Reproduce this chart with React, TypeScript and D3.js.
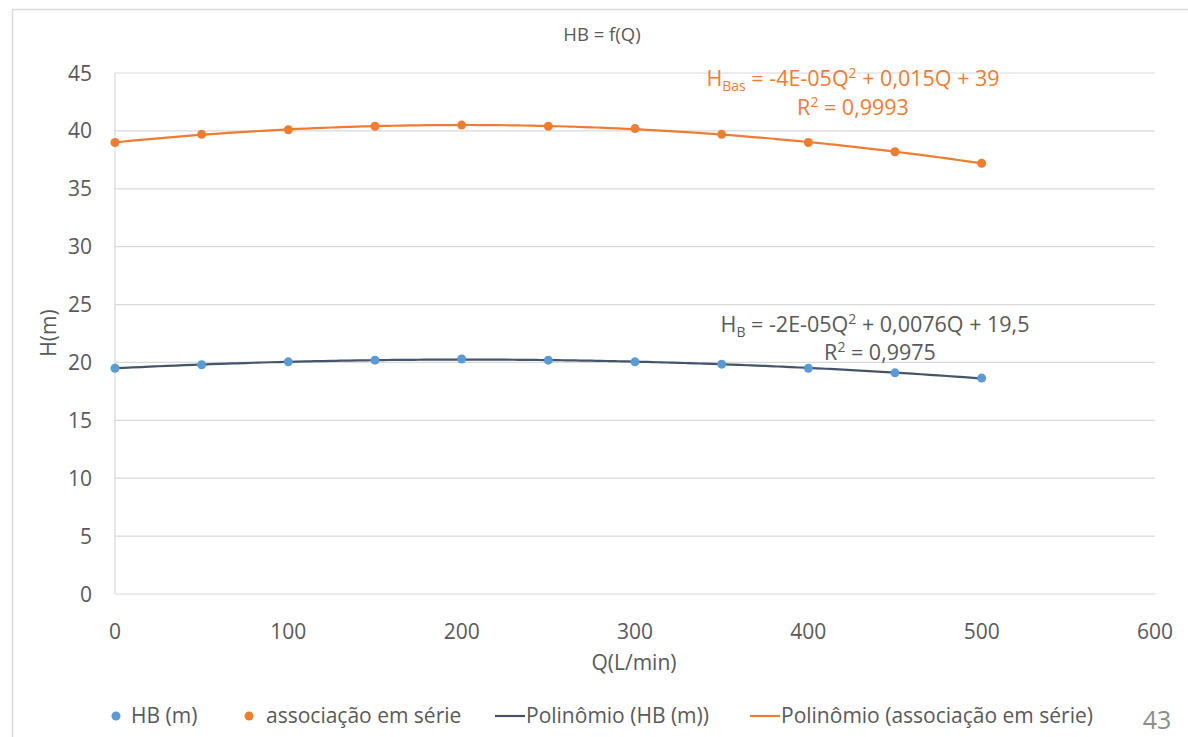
import React, { useMemo } from 'react';
import * as d3 from 'd3';

// vazão (L/min) e alturas
const Q_VALUES = [0, 50, 100, 150, 200, 250, 300, 350, 400, 450, 500];
const HB_VALUES = [19.5, 19.8, 20.05, 20.2, 20.3, 20.2, 20.05, 19.85, 19.5, 19.1, 18.65];
const SERIE_VALUES = [39.0, 39.7, 40.1, 40.4, 40.5, 40.4, 40.2, 39.7, 39.0, 38.2, 37.2];

const X_TICKS = [0, 100, 200, 300, 400, 500, 600];
const Y_TICKS = [0, 5, 10, 15, 20, 25, 30, 35, 40, 45];

const BLUE = '#5B9BD5';
const DARK = '#44546A';
const ORANGE = '#ED7D31';
const TEXT = '#595959';
const GRID = '#D9D9D9';
const FONT = '"Open Sans", Lato, sans-serif';

const W = 1188;
const H = 737;

// least squares fit of a 2nd degree polynomial, returns [a, b, c] for a*x^2 + b*x + c
function fitQuadratic(xs: number[], ys: number[]) {
  const s = [0, 0, 0, 0, 0];
  const t = [0, 0, 0];
  xs.forEach((x, i) => {
    for (let k = 0; k < 5; k++) s[k] += Math.pow(x, k);
    for (let k = 0; k < 3; k++) t[k] += ys[i] * Math.pow(x, k);
  });
  const m = [
    [s[0], s[1], s[2], t[0]],
    [s[1], s[2], s[3], t[1]],
    [s[2], s[3], s[4], t[2]],
  ];
  for (let i = 0; i < 3; i++) {
    let p = i;
    for (let r = i + 1; r < 3; r++) if (Math.abs(m[r][i]) > Math.abs(m[p][i])) p = r;
    [m[i], m[p]] = [m[p], m[i]];
    for (let r = 0; r < 3; r++) {
      if (r === i) continue;
      const f = m[r][i] / m[i][i];
      for (let c = i; c < 4; c++) m[r][c] -= f * m[i][c];
    }
  }
  return [m[2][3] / m[2][2], m[1][3] / m[1][1], m[0][3] / m[0][0]];
}

export default function App() {
  const margin = { left: 115, right: W - 1155, top: 73, bottom: H - 594 };

  const x = d3.scaleLinear().domain([0, 600]).range([margin.left, W - margin.right]);
  const y = d3.scaleLinear().domain([0, 45]).range([H - margin.bottom, margin.top]);

  const series = useMemo(() => [
    { values: HB_VALUES, dot: BLUE, line: DARK },
    { values: SERIE_VALUES, dot: ORANGE, line: ORANGE },
  ], []);

  const trend = (values: number[]) => {
    const [a, b, c] = fitQuadratic(Q_VALUES, values);
    const qs = d3.range(0, 500.01, 5);
    return d3.line<number>()
      .x(q => x(q))
      .y(q => y(a * q * q + b * q + c))
      .curve(d3.curveMonotoneX)(qs) || '';
  };

  const tickStyle = { fontFamily: FONT, fontSize: 21, fill: TEXT };
  const eqStyle = (fill: string) => ({ fontFamily: FONT, fontSize: 21.5, fill });

  return (
    <div style={{ position: 'absolute', left: 0, top: 0 }}>
      <svg width={W} height={H} style={{ display: 'block', background: '#fff' }}>
        {/* chart frame */}
        <line x1={12.5} x2={W} y1={9.5} y2={9.5} stroke={GRID} strokeWidth={1.5} />
        <line x1={12.5} x2={12.5} y1={9.5} y2={H} stroke={GRID} strokeWidth={1.5} />

        <text x={602} y={41} textAnchor="middle" style={{ fontFamily: FONT, fontSize: 18.5, fill: TEXT }}>
          HB = f(Q)
        </text>

        {/* grid */}
        {Y_TICKS.map(t => (
          <line key={'g' + t} x1={x(0)} x2={x(600)} y1={y(t)} y2={y(t)} stroke={GRID} strokeWidth={1.2} />
        ))}
        <line x1={x(0)} x2={x(0)} y1={y(0)} y2={y(45)} stroke={GRID} strokeWidth={1.2} />

        {Y_TICKS.map(t => (
          <text key={'y' + t} x={x(0) - 23} y={y(t) + 7.5} textAnchor="end" style={tickStyle}>{t}</text>
        ))}
        {X_TICKS.map(t => (
          <text key={'x' + t} x={x(t)} y={y(0) + 45} textAnchor="middle" style={tickStyle}>{t}</text>
        ))}

        <text x={634} y={670} textAnchor="middle" style={tickStyle}>Q(L/min)</text>
        <text transform={`translate(56, ${333}) rotate(-90)`} textAnchor="middle" style={tickStyle}>H(m)</text>

        {/* trendlines */}
        {series.map((s, i) => (
          <path key={'t' + i} d={trend(s.values)} fill="none" stroke={s.line} strokeWidth={2.2} />
        ))}
        {/* markers */}
        {series.map((s, i) => s.values.map((v, j) => (
          <circle key={`m${i}-${j}`} cx={x(Q_VALUES[j])} cy={y(v)} r={4.5} fill={s.dot} />
        )))}

        {/* equations */}
        <text x={853} y={86} textAnchor="middle" style={eqStyle(ORANGE)}>
          H<tspan fontSize={14} dy={5}>Bas</tspan><tspan dy={-5}> = -4E-05Q</tspan>
          <tspan fontSize={14} dy={-8}>2</tspan><tspan dy={8}> + 0,015Q + 39</tspan>
        </text>
        <text x={853} y={115} textAnchor="middle" style={eqStyle(ORANGE)}>
          R<tspan fontSize={14} dy={-8}>2</tspan><tspan dy={8}> = 0,9993</tspan>
        </text>
        <text x={875} y={332} textAnchor="middle" style={eqStyle(TEXT)}>
          H<tspan fontSize={14} dy={5}>B</tspan><tspan dy={-5}> = -2E-05Q</tspan>
          <tspan fontSize={14} dy={-8}>2</tspan><tspan dy={8}> + 0,0076Q + 19,5</tspan>
        </text>
        <text x={880} y={360} textAnchor="middle" style={eqStyle(TEXT)}>
          R<tspan fontSize={14} dy={-8}>2</tspan><tspan dy={8}> = 0,9975</tspan>
        </text>

        {/* legend */}
        <g style={{ fontFamily: FONT, fontSize: 21, fill: TEXT }}>
          <circle cx={116} cy={716} r={4.5} fill={BLUE} />
          <text x={131} y={723}>HB (m)</text>
          <circle cx={249} cy={716} r={4.5} fill={ORANGE} />
          <text x={266} y={723}>associação em série</text>
          <line x1={495} x2={525} y1={716} y2={716} stroke={DARK} strokeWidth={2.2} />
          <text x={526} y={723}>Polinômio (HB (m))</text>
          <line x1={750} x2={780} y1={716} y2={716} stroke={ORANGE} strokeWidth={2.2} />
          <text x={781} y={723}>Polinômio (associação em série)</text>
        </g>

        <text x={1157} y={729} textAnchor="middle" style={{ fontFamily: FONT, fontSize: 25, fill: '#8c8c8c' }}>43</text>
      </svg>
    </div>
  );
}
